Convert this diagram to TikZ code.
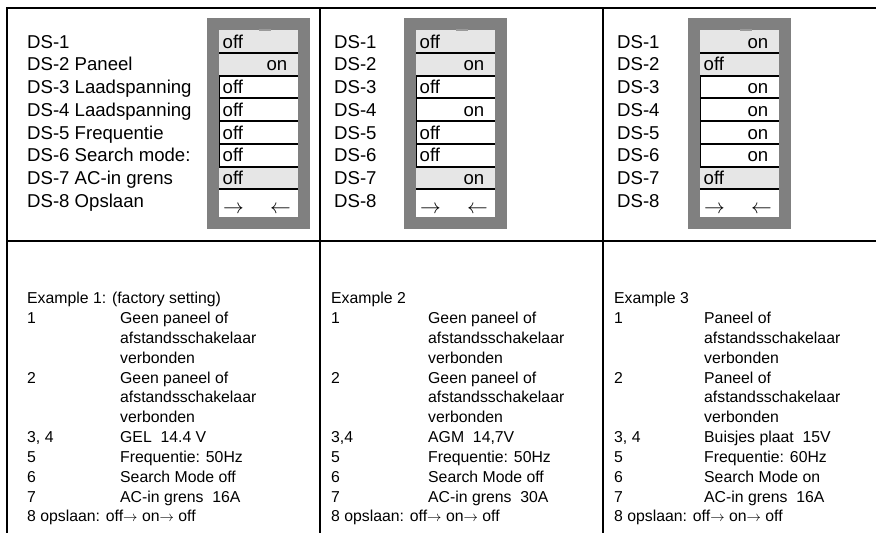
\documentclass[tikz,border=0pt]{standalone}
\usepackage{fontspec}
\setmainfont{Liberation Sans}
\definecolor{panelgray}{HTML}{808080}
\definecolor{rowgray}{HTML}{E6E6E6}
\definecolor{tabgray}{HTML}{9A9A9A}
\newcommand\rarr{\(\rightarrow\)}
\newcommand\larr{\(\leftarrow\)}
\tikzset{
  frame/.style={line width=2.5pt},
  sepline/.style={line width=2pt},
  edgeline/.style={line width=1pt},
  toptext/.style={font=\fontsize{18.6}{22}\selectfont, inner sep=0pt},
  arrtext/.style={font=\fontsize{22}{24}\selectfont, inner sep=0pt},
  bottext/.style={font=\fontsize{15.8}{19}\selectfont, inner sep=0pt, anchor=base west},
  stoff/.style={anchor=base west, xshift=15.5pt},
  ston/.style={anchor=base east, xshift=80.5pt},
}
\newcommand\dippanel[3]{%
  \begin{scope}[shift={(#2,0)}]
    \fill[panelgray] (0,18) rectangle (103,229);
    \fill[white] (12,30) rectangle (91,217);
    \foreach \i in {1,2,7} \fill[rowgray] (12,{30+(\i-1)*22.75}) rectangle (91,{30+\i*22.75});
    \fill[tabgray] (51.5,28.5) rectangle (63.5,31);
    \draw[edgeline] (12.5,{30+2*22.75}) -- (12.5,{30+6*22.75});
    \foreach \i in {1,...,7} \draw[sepline] (12,{30+\i*22.75}) -- (91,{30+\i*22.75});
    \foreach \s [count=\i] in {#3}
      \node[toptext, st\s] (#1s\i) at (0,{30+(\i-0.5)*22.75+6.8}) {\s};
    \node[arrtext, anchor=base west] (#1al) at (16,213) {\rarr};
    \node[arrtext, anchor=base east] (#1ar) at (84,213) {\larr};
  \end{scope}}
\newcommand\dslabels[3]{%
  \foreach \t [count=\i] in {#3}
    \node[toptext, anchor=base west] (#1d\i) at (#2,{30+(\i-0.5)*22.75+6.8}) {\t};}
\newcommand\example[5]{% prefix, xnum, xdesc, heading, list num/desc
  \node[bottext] (#1h) at (#2,{298+5.6}) {#4};
  \foreach \n/\d [count=\k] in {#5} {
    \node[bottext] (#1n\k) at (#2,{298+\k*19.85+5.6}) {\n};
    \node[bottext] (#1t\k) at (#3,{298+\k*19.85+5.6}) {\d};
  }
  \node[bottext] (#1last) at (#2,{298+11*19.85+5.6}) {8 opslaan: off\rarr{} on\rarr{} off};}
\begin{document}
\begin{tikzpicture}[x=1pt,y=-1pt]
\useasboundingbox (0,0) rectangle (876,533);
% frame
\draw[frame] (876,8) -- (7,8) -- (7,533);
\draw[frame] (320,8) -- (320,533);
\draw[frame] (603,8) -- (603,533);
\draw[frame] (7,241) -- (876,241);
% switch panels
\dippanel{a}{207}{off,on,off,off,off,off,off}
\dippanel{b}{404}{off,on,off,on,off,off,on}
\dippanel{c}{688}{on,off,on,on,on,on,off}
% labels
\dslabels{a}{27}{DS-1,DS-2 Paneel,DS-3 Laadspanning,DS-4 Laadspanning,DS-5 Frequentie,DS-6 Search mode:,DS-7 AC-in grens,DS-8 Opslaan}
\dslabels{b}{334}{DS-1,DS-2,DS-3,DS-4,DS-5,DS-6,DS-7,DS-8}
\dslabels{c}{617}{DS-1,DS-2,DS-3,DS-4,DS-5,DS-6,DS-7,DS-8}
% examples
\example{p}{27}{120}{Example 1: (factory setting)}{1/Geen paneel of, /afstandsschakelaar, /verbonden, 2/Geen paneel of, /afstandsschakelaar, /verbonden, {3, 4}/{GEL~~14.4 V}, 5/Frequentie: 50Hz, 6/Search Mode off, 7/AC-in grens~~16A}
\example{q}{331}{428}{Example 2}{1/Geen paneel of, /afstandsschakelaar, /verbonden, 2/Geen paneel of, /afstandsschakelaar, /verbonden, {3,4}/{AGM~~14,7V}, 5/Frequentie: 50Hz, 6/Search Mode off, 7/AC-in grens~~30A}
\example{r}{614}{704}{Example 3}{1/Paneel of, /afstandsschakelaar, /verbonden, 2/Paneel of, /afstandsschakelaar, /verbonden, {3, 4}/{Buisjes plaat~~15V}, 5/Frequentie: 60Hz, 6/Search Mode on, 7/AC-in grens~~16A}
\end{tikzpicture}
\end{document}
